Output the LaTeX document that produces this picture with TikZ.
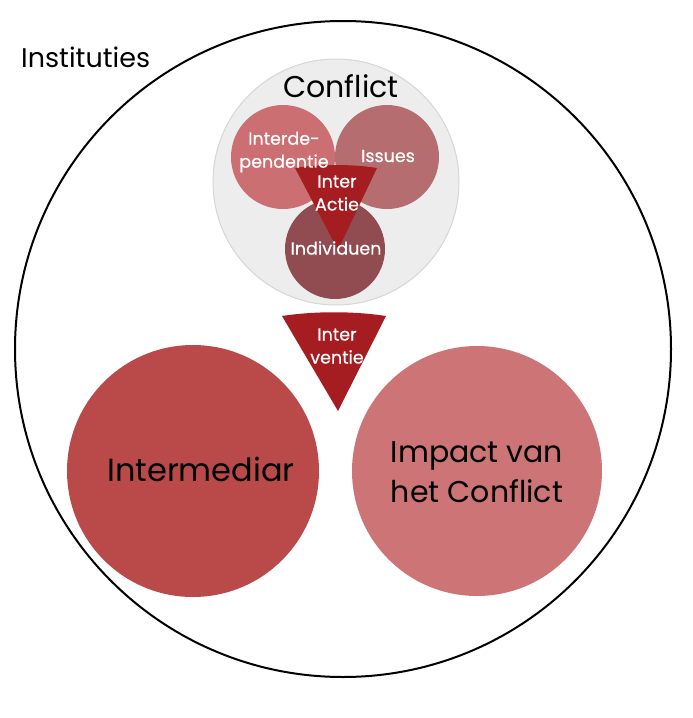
\documentclass[tikz,border=0pt]{standalone}
\usepackage{fontspec}
\setmainfont{Poppins}
\definecolor{cintermed}{HTML}{BA4A4A}
\definecolor{cimpact}{HTML}{CC7476}
\definecolor{cinterdep}{HTML}{CB6F72}
\definecolor{cissues}{HTML}{B56D70}
\definecolor{cindiv}{HTML}{904C50}
\definecolor{ctri}{HTML}{A51D20}
\definecolor{cgray}{HTML}{EDEDED}
\definecolor{cgrayline}{HTML}{D6D6D6}
\tikzset{
  bubble/.style={circle, inner sep=0pt, align=center},
  wtext/.style={text=white, font=\fontsize{17.5}{23}\selectfont\addfontfeature{FakeBold=0.5}, align=center, inner sep=0pt},
  btext/.style={text=black, align=center, inner sep=0pt},
  tri/.style={fill=ctri, draw=none}
}
\begin{document}
\begin{tikzpicture}[x=1pt,y=-1pt]
\useasboundingbox (0,0) rectangle (693,718);
% outer circle
\node[bubble, draw=black, line width=2pt, minimum size=656pt] (inst) at (343,349) {};
\node[btext, anchor=base west, font=\fontsize{27}{30}\selectfont] (insttext) at (21,67) {Instituties};
% conflict circle
\node[bubble, fill=cgray, draw=cgrayline, line width=1pt, minimum size=246pt] (conflict) at (336,182) {};
\node[btext, anchor=base, font=\fontsize{30}{34}\selectfont] (conflicttext) at (341,97) {Conflict};
\node[bubble, fill=cinterdep, minimum size=104pt] (interdep) at (283,157) {};
\node[bubble, fill=cissues, minimum size=104pt] (issues) at (387,157) {};
\node[bubble, fill=cindiv, minimum size=100pt] (indiv) at (335,249) {};
% inter actie triangle
\coordinate (ia1) at (295,168);
\coordinate (ia2) at (377,168);
\coordinate (ia3) at (338,250);
\fill[ctri] (ia1) .. controls (320,164) and (352,164) .. (ia2) -- (ia3) -- cycle;
% texts
\node[wtext] (interdeptext) at (284,152) {Interde-\\pendentie};
\node[wtext] (issuestext) at (388,156) {Issues};
\node[wtext] (iatext) at (337,193) {Inter\\Actie};
\node[wtext] (indivtext) at (336,248) {Individuen};
% interventie triangle
\coordinate (iv1) at (282,316);
\coordinate (iv2) at (386,316);
\coordinate (iv3) at (338,411);
\fill[ctri] (iv1) .. controls (315,311) and (353,311) .. (iv2) -- (iv3) -- cycle;
\node[wtext] (ivtext) at (337,346) {Inter\\ventie};
% big circles
\node[bubble, fill=cintermed, minimum size=252pt] (intermed) at (193,471) {};
\node[btext, font=\fontsize{32}{36}\selectfont] (intermedtext) at (201,469) {Intermediar};
\node[bubble, fill=cimpact, minimum size=250pt] (impact) at (477,471) {};
\node[btext, font=\fontsize{30}{40}\selectfont] (impacttext) at (477,472) {Impact van\\het Conflict};
\end{tikzpicture}
\end{document}
